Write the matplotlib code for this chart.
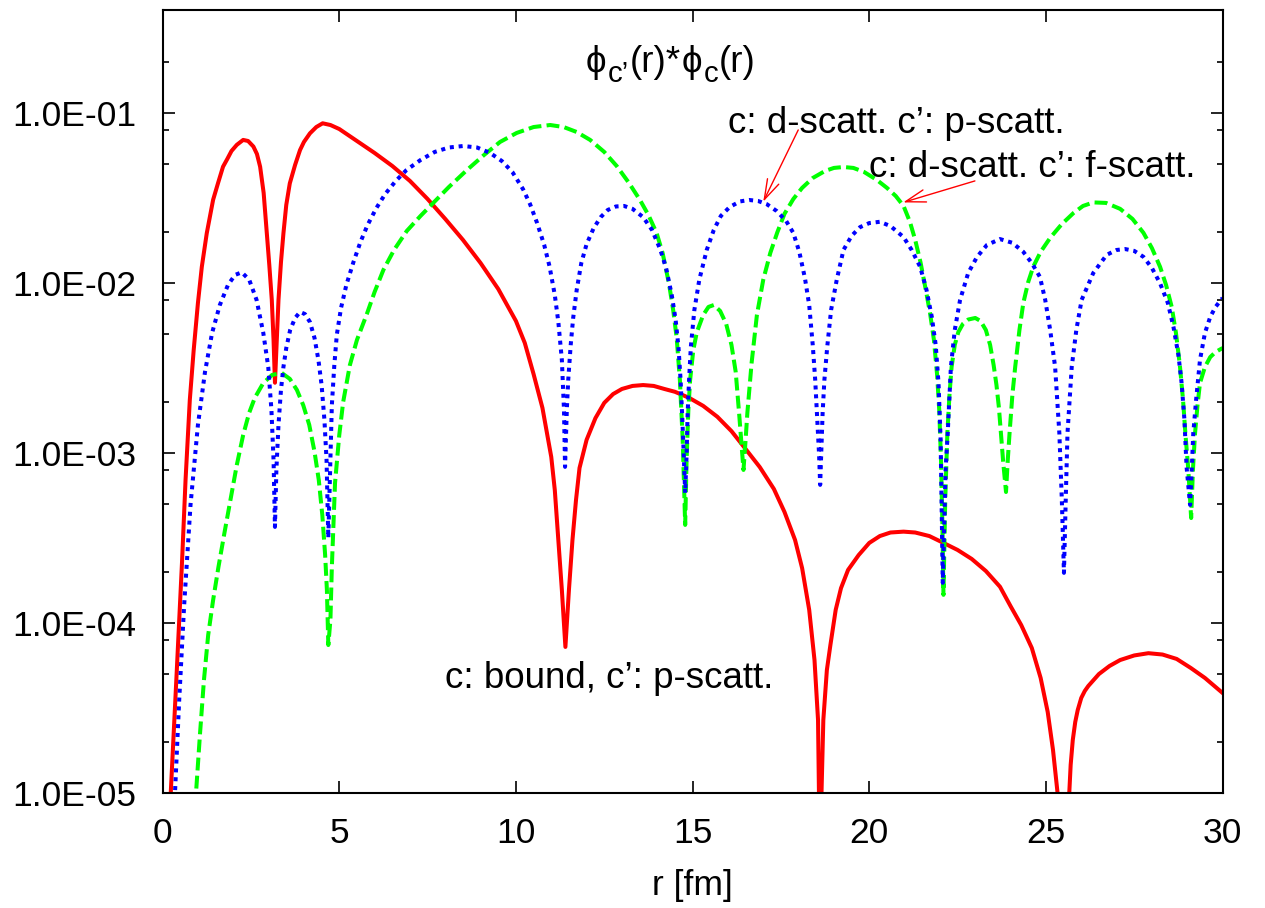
import matplotlib
matplotlib.use("Agg")
import math
import matplotlib.pyplot as plt
from matplotlib.ticker import FixedLocator, FuncFormatter, NullFormatter

plt.rcParams['font.family'] = ['Liberation Sans', 'DejaVu Sans']

# c: bound, c': p-scatt.
r_bound = [0.15, 0.23, 0.40, 0.55, 0.65, 0.77, 0.88, 1.00, 1.11, 1.25, 1.43, 1.57,
           1.71, 1.83, 1.95, 2.10, 2.28, 2.42, 2.57, 2.67, 2.76, 2.86, 2.95, 3.02,
           3.09, 3.14, 3.18, 3.23, 3.28, 3.35, 3.42, 3.50, 3.60, 3.75, 3.89, 4.00,
           4.17, 4.35, 4.53, 4.75, 5.00, 5.50, 6.00, 6.50, 7.00, 7.50, 8.00, 8.50,
           9.00, 9.50, 10.00, 10.25, 10.50, 10.75, 11.00, 11.10, 11.20, 11.30, 11.40,
           11.50, 11.60, 11.70, 11.80, 12.00, 12.25, 12.50, 12.75, 13.00, 13.30,
           13.60, 13.90, 14.20, 14.50, 14.90, 15.30, 15.70, 16.10, 16.50, 16.90,
           17.30, 17.60, 17.90, 18.10, 18.30, 18.45, 18.55, 18.60, 18.70, 18.80,
           18.90, 19.05, 19.20, 19.40, 19.70, 20.00, 20.30, 20.60, 20.97, 21.30,
           21.70, 22.10, 22.50, 22.90, 23.30, 23.70, 24.00, 24.30, 24.60, 24.85,
           25.05, 25.20, 25.33, 25.50, 25.66, 25.70, 25.76, 25.83, 25.90, 26.00,
           26.10, 26.20, 26.50, 26.80, 27.10, 27.50, 27.90, 28.30, 28.70, 29.10,
           29.50, 30.00]
phi_bound = [3e-6, 1.0e-5, 5.2e-5, 2.3e-4, 7.0e-4, 2.06e-3, 4.05e-3, 7.66e-3, 1.25e-2,
             1.97e-2, 3.1e-2, 3.89e-2, 4.85e-2, 5.38e-2, 6.0e-2, 6.52e-2, 6.97e-2,
             6.87e-2, 6.37e-2, 5.76e-2, 4.85e-2, 3.4e-2, 1.97e-2, 1.28e-2, 8.0e-3,
             4.64e-3, 2.6e-3, 4.64e-3, 8.0e-3, 1.33e-2, 1.97e-2, 2.89e-2, 3.87e-2,
             4.97e-2, 6.08e-2, 6.78e-2, 7.62e-2, 8.30e-2, 8.73e-2, 8.53e-2, 8.08e-2,
             6.87e-2, 5.84e-2, 4.90e-2, 4.00e-2, 3.13e-2, 2.39e-2, 1.80e-2, 1.315e-2,
             9.25e-3, 6.00e-3, 4.46e-3, 2.92e-3, 1.85e-3, 9.51e-4, 6.08e-4, 3.09e-4,
             1.57e-4, 7.26e-5, 1.57e-4, 3.09e-4, 5.31e-4, 8.2e-4, 1.20e-3, 1.61e-3,
             1.98e-3, 2.23e-3, 2.39e-3, 2.49e-3, 2.52e-3, 2.49e-3, 2.39e-3, 2.30e-3,
             2.12e-3, 1.90e-3, 1.64e-3, 1.35e-3, 1.06e-3, 8.30e-4, 6.17e-4, 4.52e-4,
             3.09e-4, 2.11e-4, 1.20e-4, 6.08e-5, 2.70e-5, 4e-6, 2.70e-5, 5.31e-5,
             7.45e-5, 1.20e-4, 1.61e-4, 2.06e-4, 2.52e-4, 2.97e-4, 3.26e-4, 3.42e-4,
             3.46e-4, 3.42e-4, 3.26e-4, 2.97e-4, 2.70e-4, 2.39e-4, 2.03e-4, 1.64e-4,
             1.26e-4, 9.77e-5, 7.16e-5, 4.77e-5, 3.01e-5, 1.80e-5, 1.0e-5, 3e-6,
             1.0e-5, 1.47e-5, 2.06e-5, 2.63e-5, 3.09e-5, 3.64e-5, 4.00e-5, 4.28e-5,
             5.03e-5, 5.61e-5, 6.08e-5, 6.47e-5, 6.67e-5, 6.55e-5, 6.17e-5, 5.46e-5,
             4.77e-5, 3.89e-5]

# c: d-scatt., c': p-scatt.
r_dp = [0.30, 0.35, 0.47, 0.61, 0.79, 1.00, 1.20, 1.40, 1.62, 1.85, 2.05, 2.24, 2.45,
        2.66, 2.85, 2.99, 3.08, 3.14, 3.18, 3.22, 3.28, 3.35, 3.42, 3.50, 3.61, 3.75,
        3.89, 4.03, 4.17, 4.30, 4.41, 4.50, 4.58, 4.64, 4.69, 4.75, 4.79, 4.86, 4.93,
        5.05, 5.20, 5.40, 5.60, 5.80, 6.05, 6.30, 6.60, 6.90, 7.30, 7.70, 8.10, 8.51,
        8.90, 9.27, 9.60, 9.90, 10.20, 10.40, 10.60, 10.80, 10.95, 11.10, 11.20,
        11.30, 11.36, 11.39, 11.44, 11.48, 11.55, 11.62, 11.72, 11.85, 12.00, 12.20,
        12.40, 12.60, 12.83, 13.06, 13.30, 13.60, 13.85, 14.08, 14.25, 14.41, 14.52,
        14.60, 14.66, 14.71, 14.75, 14.79, 14.83, 14.86, 14.90, 14.95, 15.05, 15.19,
        15.40, 15.60, 15.80, 16.05, 16.34, 16.60, 16.85, 17.10, 17.38, 17.65, 17.85,
        18.02, 18.18, 18.30, 18.40, 18.47, 18.53, 18.58, 18.61, 18.64, 18.68, 18.73,
        18.81, 18.92, 19.08, 19.27, 19.50, 19.74, 20.00, 20.30, 20.60, 20.97, 21.20,
        21.44, 21.62, 21.77, 21.88, 21.96, 22.02, 22.08, 22.16, 22.22, 22.31, 22.42,
        22.57, 22.80, 23.05, 23.33, 23.70, 24.05, 24.36, 24.60, 24.83, 24.98, 25.12,
        25.26, 25.38, 25.45, 25.51, 25.56, 25.61, 25.73, 25.86, 26.01, 26.34, 26.72,
        27.00, 27.24, 27.50, 27.76, 28.00, 28.23, 28.45, 28.61, 28.75, 28.84, 28.92,
        28.98, 29.08, 29.13, 29.17, 29.25, 29.36, 29.50, 29.65, 29.80, 30.00]
phi_dp = [4e-6, 1.0e-5, 3.54e-5, 1.28e-4, 4.97e-4, 1.47e-3, 3.01e-3, 5.10e-3, 7.45e-3,
          9.77e-3, 1.12e-2, 1.16e-2, 1.05e-2, 7.98e-3, 5.10e-3, 3.22e-3, 1.80e-3,
          9.14e-4, 3.69e-4, 7.98e-4, 1.47e-3, 2.36e-3, 3.22e-3, 4.16e-3, 5.31e-3,
          6.25e-3, 6.78e-3, 6.59e-3, 5.92e-3, 4.76e-3, 3.54e-3, 2.52e-3, 1.57e-3,
          9.14e-4, 3.18e-4, 9.14e-4, 1.92e-3, 3.30e-3, 4.97e-3, 7.16e-3, 9.77e-3,
          1.33e-2, 1.75e-2, 2.20e-2, 2.77e-2, 3.35e-2, 4.00e-2, 4.63e-2, 5.31e-2,
          5.92e-2, 6.29e-2, 6.42e-2, 6.29e-2, 5.84e-2, 5.24e-2, 4.51e-2, 3.58e-2,
          2.92e-2, 2.26e-2, 1.68e-2, 1.26e-2, 8.53e-3, 5.92e-3, 3.54e-3, 1.80e-3,
          8.32e-4, 1.80e-3, 2.70e-3, 4.34e-3, 6.25e-3, 9.14e-3, 1.315e-2, 1.70e-2,
          2.11e-2, 2.45e-2, 2.70e-2, 2.83e-2, 2.85e-2, 2.74e-2, 2.45e-2, 2.06e-2,
          1.59e-2, 1.23e-2, 8.53e-3, 6.08e-3, 4.22e-3, 2.70e-3, 1.57e-3, 9.77e-4,
          5.85e-4, 9.77e-4, 1.73e-3, 2.70e-3, 4.22e-3, 6.97e-3, 1.05e-2, 1.57e-2,
          2.06e-2, 2.49e-2, 2.81e-2, 3.03e-2, 3.09e-2, 3.05e-2, 2.92e-2, 2.66e-2,
          2.32e-2, 1.98e-2, 1.53e-2, 1.07e-2, 7.45e-3, 4.34e-3, 2.70e-3, 1.57e-3,
          9.77e-4, 6.52e-4, 9.77e-4, 1.73e-3, 2.70e-3, 4.22e-3, 6.97e-3, 1.05e-2,
          1.57e-2, 1.90e-2, 2.14e-2, 2.26e-2, 2.30e-2, 2.17e-2, 1.87e-2, 1.57e-2,
          1.25e-2, 9.14e-3, 6.34e-3, 4.34e-3, 2.59e-3, 1.20e-3, 1.73e-4, 7.98e-4,
          1.31e-3, 3.22e-3, 5.31e-3, 7.98e-3, 1.15e-2, 1.43e-2, 1.68e-2, 1.82e-2,
          1.73e-2, 1.53e-2, 1.315e-2, 1.09e-2, 7.98e-3, 5.31e-3, 3.22e-3, 1.31e-3,
          5.31e-4, 1.98e-4, 5.31e-4, 1.31e-3, 3.22e-3, 5.31e-3, 7.98e-3, 1.15e-2,
          1.47e-2, 1.57e-2, 1.59e-2, 1.55e-2, 1.43e-2, 1.23e-2, 1.00e-2, 7.66e-3,
          5.53e-3, 3.78e-3, 2.59e-3, 1.57e-3, 8.32e-4, 4.97e-4, 8.32e-4, 1.31e-3,
          2.06e-3, 3.54e-3, 5.10e-3, 6.34e-3, 7.26e-3, 8.20e-3]

# c: d-scatt., c': f-scatt.
r_df = [0.85, 0.945, 1.06, 1.17, 1.29, 1.43, 1.58, 1.75, 1.91, 2.10, 2.28, 2.45, 2.61,
        2.85, 3.10, 3.37, 3.60, 3.80, 3.98, 4.15, 4.30, 4.42, 4.52, 4.60, 4.65, 4.69,
        4.75, 4.79, 4.88, 5.00, 5.11, 5.30, 5.50, 5.78, 6.00, 6.25, 6.55, 6.91, 7.30,
        7.66, 8.10, 8.61, 9.10, 9.55, 10.02, 10.50, 10.97, 11.35, 11.72, 12.10,
        12.50, 12.85, 13.20, 13.51, 13.75, 13.98, 14.15, 14.33, 14.45, 14.55, 14.64,
        14.72, 14.79, 14.83, 14.88, 14.93, 15.02, 15.12, 15.30, 15.45, 15.60, 15.78,
        15.95, 16.10, 16.22, 16.32, 16.44, 16.50, 16.55, 16.67, 16.82, 17.00, 17.20,
        17.40, 17.60, 17.85, 18.10, 18.40, 18.75, 19.00, 19.27, 19.55, 19.85, 20.21,
        20.50, 20.75, 20.97, 21.15, 21.30, 21.45, 21.60, 21.72, 21.83, 21.92, 21.98,
        22.03, 22.07, 22.10, 22.15, 22.21, 22.27, 22.33, 22.42, 22.52, 22.65, 22.80,
        23.00, 23.15, 23.30, 23.42, 23.52, 23.60, 23.67, 23.73, 23.79, 23.87, 23.92,
        23.97, 24.05, 24.13, 24.25, 24.36, 24.50, 24.64, 24.85, 25.12, 25.45, 25.78,
        26.05, 26.34, 26.70, 27.10, 27.45, 27.76, 28.00, 28.23, 28.40, 28.56, 28.68,
        28.79, 28.88, 28.95, 29.03, 29.11, 29.16, 29.22, 29.29, 29.36, 29.50, 29.65,
        29.80, 30.00]
phi_df = [4e-6, 1.0e-5, 2.26e-5, 4.63e-5, 8.53e-5, 1.37e-4, 2.14e-4, 3.40e-4, 5.18e-4,
          8.53e-4, 1.28e-3, 1.73e-3, 2.12e-3, 2.59e-3, 2.89e-3, 2.97e-3, 2.74e-3,
          2.36e-3, 1.92e-3, 1.47e-3, 1.02e-3, 6.97e-4, 4.34e-4, 2.52e-4, 1.57e-4,
          7.45e-5, 1.05e-4, 2.14e-4, 6.68e-4, 1.28e-3, 2.00e-3, 3.30e-3, 4.64e-3,
          6.59e-3, 8.89e-3, 1.20e-2, 1.57e-2, 2.03e-2, 2.49e-2, 2.97e-2, 3.68e-2,
          4.63e-2, 5.69e-2, 6.78e-2, 7.66e-2, 8.30e-2, 8.53e-2, 8.30e-2, 7.76e-2,
          6.97e-2, 5.92e-2, 4.90e-2, 3.89e-2, 3.09e-2, 2.52e-2, 1.98e-2, 1.51e-2,
          1.00e-2, 6.97e-3, 4.76e-3, 2.70e-3, 1.20e-3, 3.79e-4, 9.14e-4, 1.80e-3,
          2.70e-3, 4.05e-3, 5.16e-3, 6.51e-3, 7.26e-3, 7.45e-3, 6.87e-3, 5.77e-3,
          4.34e-3, 3.01e-3, 1.68e-3, 7.98e-4, 1.20e-3, 1.73e-3, 3.40e-3, 6.51e-3,
          1.05e-2, 1.51e-2, 2.00e-2, 2.56e-2, 3.13e-2, 3.64e-2, 4.16e-2, 4.58e-2,
          4.77e-2, 4.83e-2, 4.77e-2, 4.52e-2, 4.06e-2, 3.64e-2, 3.26e-2, 2.85e-2,
          2.30e-2, 1.80e-2, 1.33e-2, 9.14e-3, 6.68e-3, 4.64e-3, 2.89e-3, 1.80e-3,
          9.14e-4, 3.79e-4, 1.47e-4, 5.31e-4, 1.31e-3, 2.20e-3, 3.22e-3, 4.34e-3,
          5.16e-3, 5.77e-3, 6.12e-3, 6.25e-3, 6.00e-3, 5.31e-3, 4.34e-3, 3.30e-3,
          2.52e-3, 1.85e-3, 1.28e-3, 8.89e-4, 5.92e-4, 9.14e-4, 1.31e-3, 2.20e-3,
          3.22e-3, 5.31e-3, 7.66e-3, 1.02e-2, 1.25e-2, 1.53e-2, 1.85e-2, 2.23e-2,
          2.59e-2, 2.85e-2, 2.99e-2, 2.97e-2, 2.74e-2, 2.39e-2, 1.98e-2, 1.61e-2,
          1.25e-2, 9.77e-3, 7.26e-3, 5.10e-3, 3.30e-3, 2.06e-3, 1.28e-3, 7.98e-4,
          4.16e-4, 7.98e-4, 1.31e-3, 1.92e-3, 2.59e-3, 3.22e-3, 3.68e-3, 3.94e-3,
          4.16e-3]

x_ticks = [0, 5, 10, 15, 20, 25, 30]
y_major = [1e-5, 1e-4, 1e-3, 1e-2, 1e-1]
y_minor_mantissas = [2, 5, 8]

FS_TICK = 25.5
FS_LABEL = 26.5
W = 1265
H = 908
fig = plt.figure(figsize=(W / 100, H / 100), dpi=100)
ax = fig.add_axes([162.6 / W, 1 - 793.3 / H, 1060.0 / W, 783.3 / H])

ax.plot(r_bound, phi_bound, color='#ff0000', lw=2.9, solid_joinstyle='round')
ax.plot(r_df, phi_df, color='#00ff00', lw=2.9, linestyle=(0, (3.2, 1.3)),
        dash_capstyle='butt')
ax.plot(r_dp, phi_dp, color='#0000ff', lw=2.9, linestyle=(0, (1.0, 1.2)),
        dash_capstyle='butt')

ax.set_yscale('log')
ax.set_xlim(0, 30)
ax.set_ylim(1e-5, 0.405)

ax.xaxis.set_major_locator(FixedLocator(x_ticks))
ax.xaxis.set_minor_locator(FixedLocator([]))
ax.yaxis.set_major_locator(FixedLocator(y_major))
minors = [m * 10.0 ** e for e in range(-5, 0) for m in y_minor_mantissas]
ax.yaxis.set_minor_locator(FixedLocator(minors))
ax.yaxis.set_major_formatter(FuncFormatter(
    lambda v, p: '1.0E-%02d' % round(-math.log10(v))))
ax.yaxis.set_minor_formatter(NullFormatter())
ax.xaxis.set_major_formatter(FuncFormatter(lambda v, p: '%d' % v))

ax.tick_params(which='both', direction='in', top=True, right=True, width=1.2,
               colors='black', labelsize=FS_TICK)
ax.tick_params(which='major', length=8.6)
ax.tick_params(which='minor', length=4.3)
ax.tick_params(axis='y', pad=19)
ax.tick_params(axis='x', pad=17)
for s in ax.spines.values():
    s.set_linewidth(1.5)

ax.set_xlabel('r [fm]', fontsize=FS_TICK, labelpad=14)

# Title with enhanced-text style subscripts, laid out piece by piece
renderer = fig.canvas.get_renderer()
title_pieces = [('ϕ', 1.0, 0), ('c’', 0.8, 10), ('(r)*', 1.0, 0),
                ('ϕ', 1.0, 0), ('c', 0.8, 10), ('(r)', 1.0, 0)]
x_px, base_px = 586.0, 72.0
for s, scale, drop in title_pieces:
    t = fig.text(x_px / W, 1 - (base_px + drop) / H, s, fontsize=FS_LABEL * scale,
                 ha='left', va='baseline')
    x_px += t.get_window_extent(renderer).width + 1.0

ax.text(16.0, 0.0762, 'c: d-scatt. c’: p-scatt.', fontsize=FS_LABEL, ha='left',
        va='baseline')
ax.text(20.0, 0.0424, 'c: d-scatt. c’: f-scatt.', fontsize=FS_LABEL, ha='left',
        va='baseline')
ax.text(8.0, 4.15e-5, 'c: bound, c’: p-scatt.', fontsize=FS_LABEL, ha='left',
        va='baseline')

arrow = dict(arrowstyle='->, head_length=1.45, head_width=0.45', color='#ff0000',
             lw=1.0, shrinkA=0, shrinkB=0)
ax.annotate('', xy=(17.0, 0.0302), xytext=(17.99, 0.0798), arrowprops=arrow)
ax.annotate('', xy=(20.96, 0.0299), xytext=(22.99, 0.040), arrowprops=arrow)

fig.savefig('out.png', dpi=100)
